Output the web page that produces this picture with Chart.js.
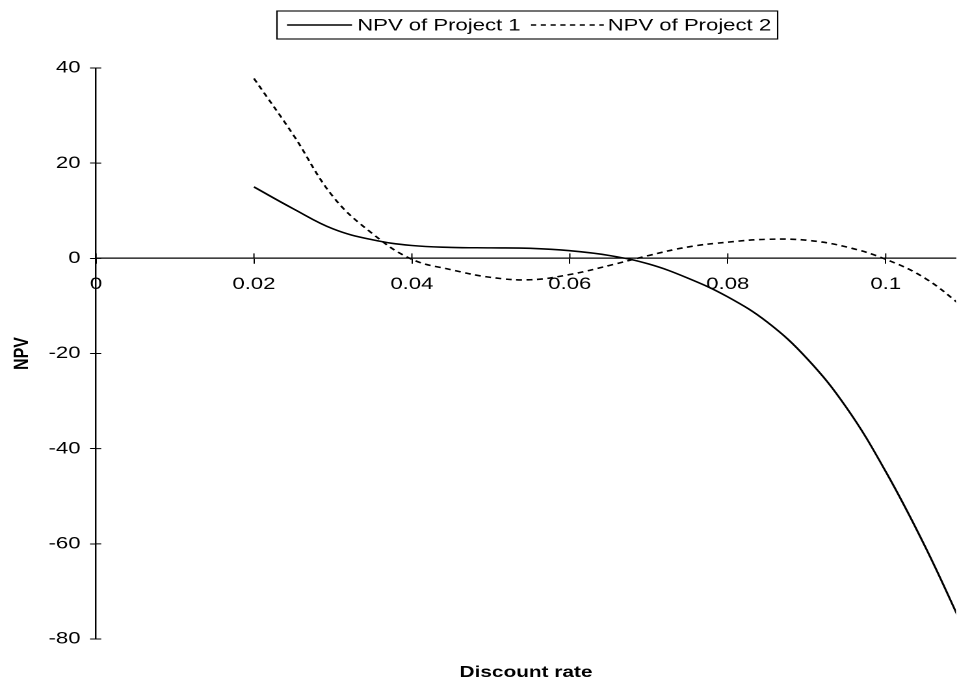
<!DOCTYPE html>
<html>
<head>
<meta charset="utf-8">
<script src="https://cdn.jsdelivr.net/npm/chart.js@4.4.1/dist/chart.umd.min.js"></script>
<style>
  html, body { margin: 0; padding: 0; background: #fff; overflow: hidden; }
  /* the reference is drawn a bit wide, so the chart is stretched sideways */
  #wrap { width: 736px; height: 679px; transform: scaleX(1.3003); transform-origin: 0 0; }
</style>
</head>
<body>
<div id="wrap"><canvas id="npvChart"></canvas></div>
<script>
var rates    = [0.02, 0.025, 0.03, 0.035, 0.04, 0.045, 0.05, 0.055, 0.06, 0.065, 0.07, 0.075, 0.08, 0.085, 0.09, 0.095, 0.1, 0.105, 0.11];
var project1 = [15.0, 10.4, 6.2, 3.9, 2.7, 2.3, 2.2, 2.1, 1.6, 0.6, -1.2, -4.2, -8.1, -13.4, -21.0, -31.3, -44.8, -60.6, -78.3];
var project2 = [37.8, 25.9, 13.0, 5.2, -0.2, -2.4, -4.0, -4.5, -3.4, -1.5, 0.6, 2.4, 3.4, 4.0, 3.8, 2.4, -0.2, -4.2, -10.5];
var seriesNames = ['NPV of Project 1', 'NPV of Project 2'];

var xTicks = [0, 0.02, 0.04, 0.06, 0.08, 0.1];
var xTickLabels = ['0', '0.02', '0.04', '0.06', '0.08', '0.1'];
var yTicks = [40, 20, 0, -20, -40, -60, -80];
var yTickLabels = ['40', '20', '0', '-20', '-40', '-60', '-80'];
var xTitle = 'Discount rate';
var yTitle = 'NPV';

var fontFamily = "'Liberation Sans', Arial, Helvetica, sans-serif";

function points(values) {
    var out = [];
    for (var i = 0; i < rates.length; i++) {
        out.push({ x: rates[i], y: values[i] });
    }
    return out;
}

// tick halves on the inner side, x title and the boxed legend
var extras = {
    id: 'extras',
    afterDraw: function(chart) {
        var ctx = chart.ctx;
        var area = chart.chartArea;
        var xs = chart.scales.x, ys = chart.scales.y;
        var y0 = ys.getPixelForValue(0);

        ctx.save();
        ctx.strokeStyle = '#000';
        ctx.lineWidth = 1;
        ctx.beginPath();
        xTicks.forEach(function(v) {
            var px = xs.getPixelForValue(v);
            ctx.moveTo(px, y0);
            ctx.lineTo(px, y0 - 5);
        });
        yTicks.forEach(function(v) {
            var py = ys.getPixelForValue(v);
            ctx.moveTo(area.left, py);
            ctx.lineTo(area.left + 4, py);
        });
        ctx.stroke();

        ctx.fillStyle = '#000';
        ctx.font = 'bold 16px ' + fontFamily;
        ctx.textAlign = 'center';
        ctx.textBaseline = 'alphabetic';
        ctx.fillText(xTitle, (area.left + area.right) / 2, 677);

        // legend
        ctx.font = '17px ' + fontFamily;
        var w1 = ctx.measureText(seriesNames[0]).width;
        var w2 = ctx.measureText(seriesNames[1]).width;
        var left = 213, top = 11, bottom = 39, mid = 25;
        var s1a = left + 7.7, s1b = s1a + 50, t1 = s1b + 4;
        var s2a = t1 + w1 + 8, s2b = s2a + 56, t2 = s2b + 3;
        var right = t2 + w2 + 5;

        ctx.lineWidth = 1.1;
        ctx.strokeRect(left, top, right - left, bottom - top);

        ctx.lineWidth = 1.5;
        ctx.beginPath();
        ctx.moveTo(s1a, mid);
        ctx.lineTo(s1b, mid);
        ctx.stroke();
        ctx.setLineDash([4, 3.5]);
        ctx.beginPath();
        ctx.moveTo(s2a, mid);
        ctx.lineTo(s2b, mid);
        ctx.stroke();
        ctx.setLineDash([]);

        ctx.textAlign = 'left';
        ctx.textBaseline = 'middle';
        ctx.fillText(seriesNames[0], t1, mid + 1);
        ctx.fillText(seriesNames[1], t2, mid + 1);
        ctx.restore();
    }
};

var ctx = document.getElementById('npvChart').getContext('2d');
var chart = new Chart(ctx, {
    type: 'line',
    data: {
        datasets: [
            {
                label: seriesNames[0],
                data: points(project1),
                borderColor: '#000',
                borderWidth: 1.6,
                pointRadius: 0,
                tension: 0.4,
                fill: false
            },
            {
                label: seriesNames[1],
                data: points(project2),
                borderColor: '#000',
                borderWidth: 1.6,
                borderDash: [4.5, 3.5],
                pointRadius: 0,
                tension: 0.4,
                fill: false
            }
        ]
    },
    options: {
        responsive: true,
        maintainAspectRatio: false,
        devicePixelRatio: 2,
        animation: false,
        layout: { padding: { top: 68, bottom: 40, left: 0, right: 0 } },
        plugins: {
            legend: { display: false },
            tooltip: { enabled: false }
        },
        scales: {
            x: {
                type: 'linear',
                position: { y: 0 },
                min: 0,
                max: 0.1089,
                afterBuildTicks: function(scale) {
                    scale.ticks = xTicks.map(function(v) { return { value: v }; });
                },
                grid: { drawOnChartArea: false, drawTicks: true, tickLength: 5, color: '#000', lineWidth: 1 },
                border: { display: true, color: '#000', width: 1.2 },
                ticks: {
                    autoSkip: false,
                    maxRotation: 0,
                    padding: 11,
                    color: '#000',
                    font: { family: fontFamily, size: 17 },
                    callback: function(value) { return xTickLabels[xTicks.indexOf(value)]; }
                }
            },
            y: {
                type: 'linear',
                position: 'left',
                min: -80,
                max: 40,
                afterBuildTicks: function(scale) {
                    scale.ticks = yTicks.map(function(v) { return { value: v }; });
                },
                afterFit: function(scale) { scale.width = 73.83; },
                grid: { drawOnChartArea: false, drawTicks: true, tickLength: 4.6, color: '#000', lineWidth: 1 },
                border: { display: true, color: '#000', width: 1.2 },
                ticks: {
                    padding: 7.3,
                    color: '#000',
                    font: { family: fontFamily, size: 17 },
                    callback: function(value) { return yTickLabels[yTicks.indexOf(value)]; }
                },
                title: {
                    display: true,
                    text: yTitle,
                    color: '#000',
                    font: { family: fontFamily, size: 16, weight: 'bold' },
                    padding: { top: 7.3, bottom: 0 }
                }
            }
        }
    },
    plugins: [extras]
});
</script>
</body>
</html>
